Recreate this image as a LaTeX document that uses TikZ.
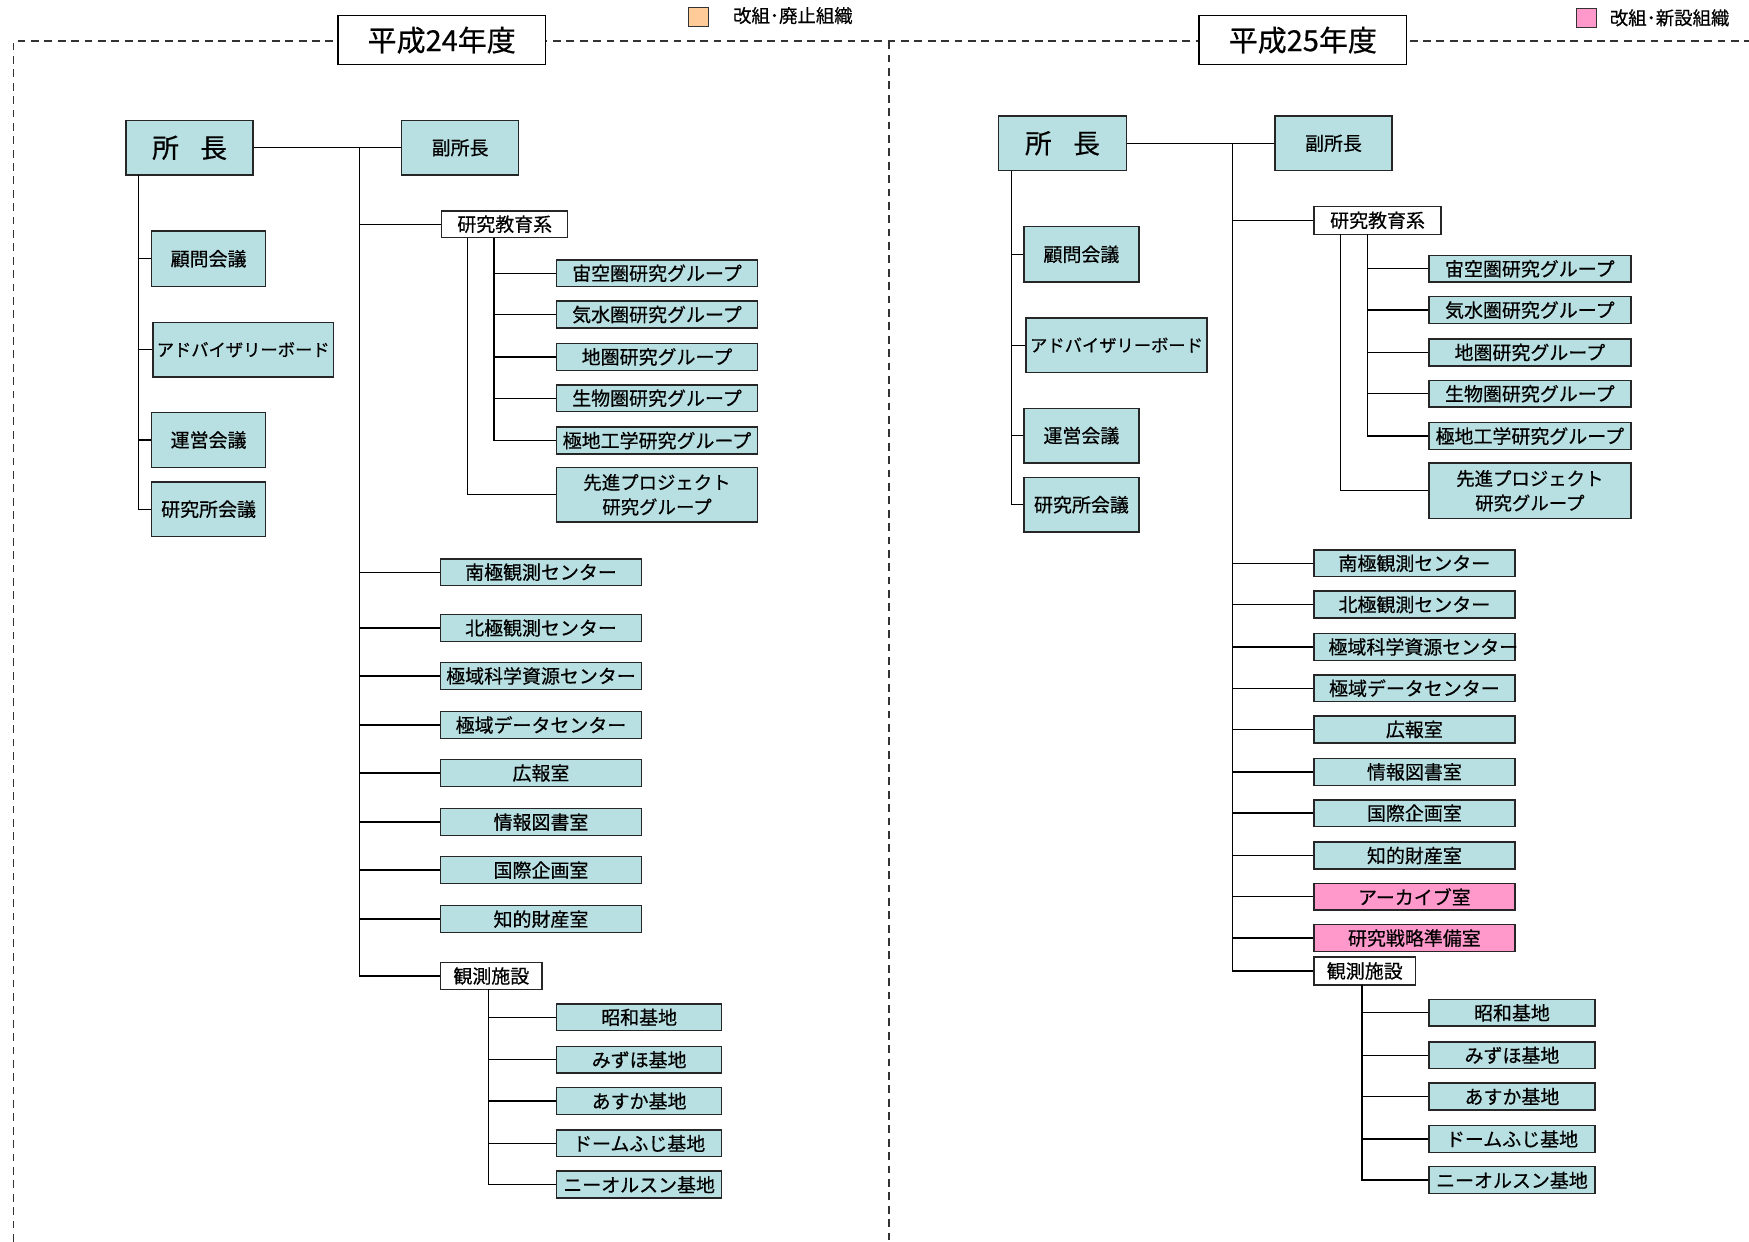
\documentclass[tikz,border=0pt]{standalone}
\usepackage{fontspec}
\setmainfont{Noto Sans CJK JP}[FakeBold=0.5]
\begin{document}
\begin{tikzpicture}[x=1pt,y=-1pt,
  base/.style={draw=black!85,line width=1.3pt,inner sep=0pt,font=\fontsize{17}{20}\selectfont},
  org/.style={base,fill=orgfill},
  neworg/.style={base,fill=newfill},
  plain/.style={base,fill=white},
  title/.style={draw=black,line width=1.4pt,fill=white,inner sep=0pt,minimum width=186pt,minimum height=44pt,font=\fontsize{26}{30}\selectfont},
  conn/.style={line width=1.2pt,black},
  frame/.style={line width=1.4pt,black!80,dash pattern=on 7pt off 5pt},
  wC/.style={minimum width=180pt,minimum height=24pt},
  wB/.style={minimum width=148pt,minimum height=24pt},
  wM/.style={minimum width=102pt,minimum height=49pt},
]
\definecolor{orgfill}{RGB}{184,223,225}
\definecolor{newfill}{RGB}{255,153,204}
\definecolor{oldfill}{RGB}{255,204,153}
\useasboundingbox (0,0) rectangle (1568,1113.2);

% dashed frame
\coordinate (fTL) at (12,37);
\coordinate (fTR) at (1568,37);
\coordinate (fBL) at (12,1113.2);
\coordinate (fMT) at (797,37);
\coordinate (fMB) at (797,1113.2);
\draw[frame] (fBL) -- (fTL) -- (fTR);
\draw[frame] (fMT) -- (fMB);

% titles and legend
\node[title] (yL) at (396,36) {平成24年度};
\node[title] (yR) at (1168,36) {平成25年度};
\node[draw=black!80,line width=1pt,fill=oldfill,minimum width=18pt,minimum height=17pt,inner sep=0pt] (legO) at (626,15.5) {};
\node[anchor=west,inner sep=0pt,font=\fontsize{16.5}{18}\selectfont] (legOt) at (657,14) {改組･廃止組織};
\node[draw=black!80,line width=1pt,fill=newfill,minimum width=18pt,minimum height=17pt,inner sep=0pt] (legN) at (1422,16.5) {};
\node[anchor=west,inner sep=0pt,font=\fontsize{16.5}{18}\selectfont] (legNt) at (1443,16) {改組･新設組織};

% ===================== left: 平成24年度 =====================
\node[org,minimum width=114pt,minimum height=49pt,font=\fontsize{24}{28}\selectfont] (chiefL) at (170,132.5) {所\hspace{0.8em}長};
\node[org,minimum width=105pt,minimum height=49pt] (viceL) at (412.5,132.5) {副所長};
\node[org,wM,minimum height=50pt] (komL) at (187,232) {顧問会議};
\node[org,minimum width=162pt,minimum height=49pt,font=\fontsize{15.5}{18}\selectfont] (advL) at (218,313.5) {アドバイザリーボード};
\node[org,wM] (uneL) at (187,394.5) {運営会議};
\node[org,wM] (kenL) at (187,456.5) {研究所会議};

\node[plain,minimum width=113pt,minimum height=24pt] (kyoL) at (452.5,201) {研究教育系};
\node[org,wC] (g1L) at (589,245) {宙空圏研究グループ};
\node[org,wC] (g2L) at (589,282) {気水圏研究グループ};
\node[org,wC] (g3L) at (589,320) {地圏研究グループ};
\node[org,wC] (g4L) at (589,357) {生物圏研究グループ};
\node[org,wC] (g5L) at (589,395) {極地工学研究グループ};
\node[org,wC,minimum height=49pt,align=center,font=\fontsize{16.5}{22}\selectfont] (g6L) at (589,443.5) {先進プロジェクト\\研究グループ};

\node[org,wC] (c1L) at (485,513) {南極観測センター};
\node[org,wC] (c2L) at (485,563) {北極観測センター};
\node[org,wC] (c3L) at (485,606) {極域科学資源センター};
\node[org,wC] (c4L) at (485,650) {極域データセンター};
\node[org,wC] (c5L) at (485,693) {広報室};
\node[org,wC] (c6L) at (485,737) {情報図書室};
\node[org,wC] (c7L) at (485,780) {国際企画室};
\node[org,wC] (c8L) at (485,824) {知的財産室};

\node[plain,minimum width=91pt,minimum height=24pt] (obsL) at (440.5,875) {観測施設};
\node[org,wB] (b1L) at (573,912) {昭和基地};
\node[org,wB] (b2L) at (573,950) {みずほ基地};
\node[org,wB] (b3L) at (573,987) {あすか基地};
\node[org,wB] (b4L) at (573,1025) {ドームふじ基地};
\node[org,wB] (b5L) at (573,1062) {ニーオルスン基地};

% connectors, left
\coordinate (trL) at (322,132.5);
\coordinate (coL) at (124,157);
\coordinate (kaL) at (419,213);
\coordinate (kbL) at (443,213);
\coordinate (obL) at (438,887);
\draw[conn] (chiefL.east) -- (viceL.west);
\foreach \n in {kyoL,c1L,c2L,c3L,c4L,c5L,c6L,c7L,c8L,obsL} \draw[conn] (trL) |- (\n.west);
\foreach \n in {komL,advL,uneL,kenL} \draw[conn] (coL) |- (\n.west);
\foreach \n in {g1L,g2L,g3L,g4L,g5L} \draw[conn] (kbL) |- (\n.west);
\draw[conn] (kaL) |- (g6L.west);
\foreach \n in {b1L,b2L,b3L,b4L,b5L} \draw[conn] (obL) |- (\n.west);

% ===================== right: 平成25年度 =====================
\node[org,minimum width=115pt,minimum height=49pt,font=\fontsize{24}{28}\selectfont] (chiefR) at (952.5,128.5) {所\hspace{0.8em}長};
\node[org,minimum width=105pt,minimum height=49pt] (viceR) at (1195.5,128.5) {副所長};
\node[org,minimum width=103pt,minimum height=50pt] (komR) at (969.5,228) {顧問会議};
\node[org,minimum width=162pt,minimum height=49pt,font=\fontsize{15.5}{18}\selectfont] (advR) at (1001,309.5) {アドバイザリーボード};
\node[org,minimum width=103pt,minimum height=49pt] (uneR) at (969.5,390.5) {運営会議};
\node[org,minimum width=103pt,minimum height=49pt] (kenR) at (969.5,452.5) {研究所会議};

\node[plain,minimum width=114pt,minimum height=25pt] (kyoR) at (1235,197.5) {研究教育系};
\node[org,wC,minimum width=181pt] (g1R) at (1371.5,241) {宙空圏研究グループ};
\node[org,wC,minimum width=181pt] (g2R) at (1371.5,278) {気水圏研究グループ};
\node[org,wC,minimum width=181pt] (g3R) at (1371.5,316) {地圏研究グループ};
\node[org,wC,minimum width=181pt] (g4R) at (1371.5,353) {生物圏研究グループ};
\node[org,wC,minimum width=181pt] (g5R) at (1371.5,391) {極地工学研究グループ};
\node[org,wC,minimum width=181pt,minimum height=50pt,align=center,font=\fontsize{16.5}{22}\selectfont] (g6R) at (1371.5,440) {先進プロジェクト\\研究グループ};

\node[org,wC] (c1R) at (1268,505) {南極観測センター};
\node[org,wC] (c2R) at (1268,542) {北極観測センター};
\node[org,wC] (c3R) at (1268,580) {\makebox[166pt][c]{\hspace{16pt}極域科学資源センター}};
\node[org,wC] (c4R) at (1268,617) {極域データセンター};
\node[org,wC] (c5R) at (1268,654) {広報室};
\node[org,wC] (c6R) at (1268,692) {情報図書室};
\node[org,wC] (c7R) at (1268,729) {国際企画室};
\node[org,wC] (c8R) at (1268,767) {知的財産室};
\node[neworg,wC] (c9R) at (1268,804) {アーカイブ室};
\node[neworg,wC] (c10R) at (1268,841) {研究戦略準備室};

\node[plain,minimum width=91pt,minimum height=25pt] (obsR) at (1223.5,870.5) {観測施設};
\node[org,wB,minimum width=149pt] (b1R) at (1355.5,908) {昭和基地};
\node[org,wB,minimum width=149pt] (b2R) at (1355.5,946) {みずほ基地};
\node[org,wB,minimum width=149pt] (b3R) at (1355.5,983) {あすか基地};
\node[org,wB,minimum width=149pt] (b4R) at (1355.5,1021) {ドームふじ基地};
\node[org,wB,minimum width=149pt] (b5R) at (1355.5,1058) {ニーオルスン基地};

% connectors, right
\coordinate (trR) at (1105,128.5);
\coordinate (coR) at (907,153);
\coordinate (kaR) at (1202,210);
\coordinate (kbR) at (1226,210);
\coordinate (obR) at (1221,883);
\draw[conn] (chiefR.east) -- (viceR.west);
\foreach \n in {kyoR,c1R,c2R,c3R,c4R,c5R,c6R,c7R,c8R,c9R,c10R,obsR} \draw[conn] (trR) |- (\n.west);
\foreach \n in {komR,advR,uneR,kenR} \draw[conn] (coR) |- (\n.west);
\foreach \n in {g1R,g2R,g3R,g4R,g5R} \draw[conn] (kbR) |- (\n.west);
\draw[conn] (kaR) |- (g6R.west);
\foreach \n in {b1R,b2R,b3R,b4R,b5R} \draw[conn] (obR) |- (\n.west);
\end{tikzpicture}
\end{document}
